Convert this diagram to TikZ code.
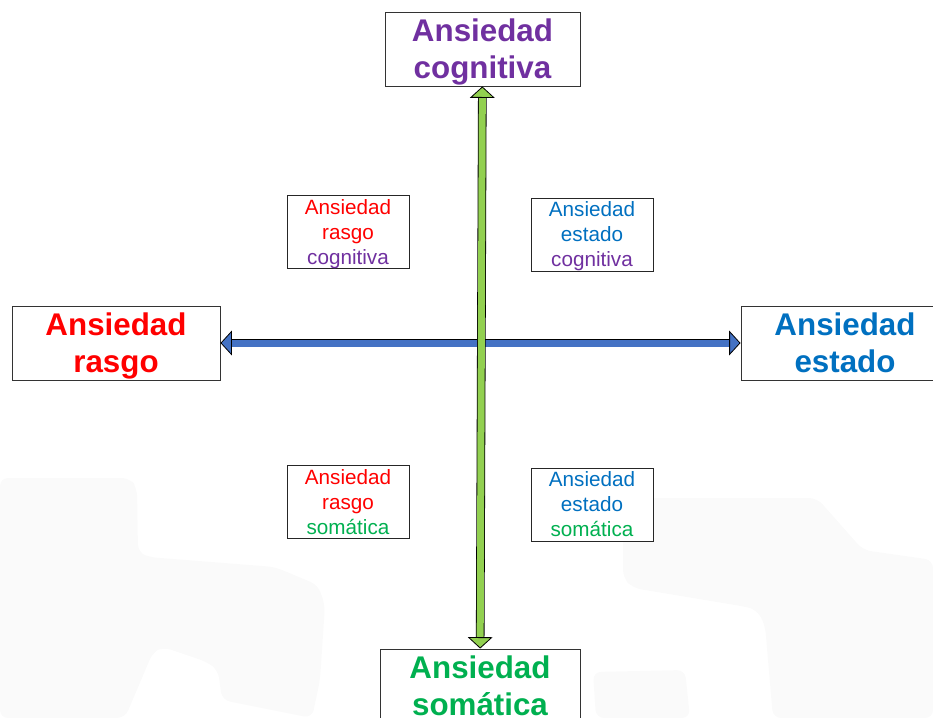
\documentclass[tikz,border=0pt]{standalone}
\usepackage{fontspec}
\setmainfont{Liberation Sans}
\usetikzlibrary{arrows.meta}

\definecolor{cogpurple}{HTML}{7030A0}
\definecolor{rasgored}{HTML}{FF0000}
\definecolor{estblue}{HTML}{0070C0}
\definecolor{somgreen}{HTML}{00B050}
\definecolor{axisgreen}{HTML}{92D050}
\definecolor{axisblue}{HTML}{4472C4}
\definecolor{wmgrey}{HTML}{FAFAFA}

\begin{document}
\begin{tikzpicture}[x=0.75pt, y=-0.75pt,
  bigbox/.style={draw=black!80, line width=0.7pt, fill=white, align=center, minimum height=55.5pt, inner sep=0pt, text depth=0pt, font=\fontsize{23.5}{27.75}\selectfont\bfseries},
  smallbox/.style={draw=black!85, line width=0.7pt, fill=white, align=center, minimum width=91.5pt, minimum height=54.75pt, inner sep=0pt, text depth=0pt, font=\fontsize{15.5}{18.75}\selectfont},
  axis/.style={line width=0.6pt, double=#1, double distance=5.25pt,
    {Triangle[length=8.5pt, width=18.5pt, line width=0.6pt, fill=#1]}-{Triangle[length=8.5pt, width=18.5pt, line width=0.6pt, fill=#1]}}]
  \useasboundingbox (0,0) rectangle (933,718);
  % faint shapes in the background
  \fill[wmgrey, rounded corners=6pt] (0,478) -- (130,478) -- (137,488) -- (138,552) -- (148,557) -- (275,567) -- (318,585) -- (325,605) -- (320,680) -- (312,718) -- (222,700) -- (218,670) -- (207,662) -- (163,647) -- (153,652) -- (125,718) -- (0,718) -- cycle;
  \fill[wmgrey, rounded corners=6pt] (623,498) -- (817,498) -- (863,550) -- (933,560) -- (933,718) -- (773,718) -- (765,625) -- (757,610) -- (747,607) -- (633,588) -- (623,578) -- cycle;
  \fill[wmgrey, rounded corners=6pt] (593,672) -- (685,670) -- (690,718) -- (596,718) -- cycle;

  \node[bigbox, minimum width=146.25pt, text=cogpurple] (cog) at (482.5,49) {Ansiedad\\cognitiva};
  \node[bigbox, minimum width=156pt, text=rasgored] (rasgo) at (116,343) {Ansiedad\\rasgo};
  \node[bigbox, minimum width=156pt, text=estblue] (estado) at (845,343) {Ansiedad\\estado};
  \node[bigbox, minimum width=150pt, text=somgreen] (som) at (480,686) {Ansiedad\\somática};

  \node[smallbox] (rcog) at (348,232) {\textcolor{rasgored}{Ansiedad}\\\textcolor{rasgored}{rasgo}\\\textcolor{cogpurple}{cognitiva}};
  \node[smallbox] (ecog) at (592,234.5) {\textcolor{estblue}{Ansiedad}\\\textcolor{estblue}{estado}\\\textcolor{cogpurple}{cognitiva}};
  \node[smallbox] (rsom) at (348,502) {\textcolor{rasgored}{Ansiedad}\\\textcolor{rasgored}{rasgo}\\\textcolor{somgreen}{somática}};
  \node[smallbox] (esom) at (592,504.5) {\textcolor{estblue}{Ansiedad}\\\textcolor{estblue}{estado}\\\textcolor{somgreen}{somática}};

  \draw[axis=axisblue] (rasgo) -- (estado);
  \draw[axis=axisgreen] (cog) -- (som);
\end{tikzpicture}
\end{document}
